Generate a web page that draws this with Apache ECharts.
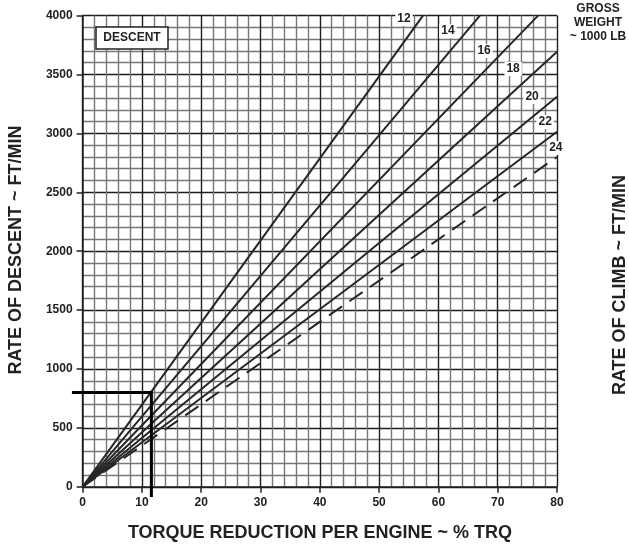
<!DOCTYPE html>
<html>
<head>
<meta charset="utf-8">
<script src="https://cdn.jsdelivr.net/npm/echarts@6/dist/echarts.min.js"></script>
<style>
html,body{margin:0;padding:0;background:#fff;}
#chart{width:629px;height:551px;}
</style>
</head>
<body>
<div id="chart"></div>
<script>
// Gross weight lines (~1000 LB)
var weights = [12, 14, 16, 18, 20, 22, 24];
var endX = [57.4, 67.0, 76.8, 80, 80, 80, 80];
var endY = [4000, 4000, 4000, 3694, 3311, 3014, 2800];
var labelX = [54.2, 61.6, 67.7, 72.6, 75.8, 78.0, 79.8];
var labelY = [3971, 3869, 3699, 3547, 3309, 3097, 2876];
// Example path (descent)
var exampleX = [-1.8, 11.6, 11.6];
var exampleY = [800, 800, -87];
// Axis ticks
var xTicks = [0, 10, 20, 30, 40, 50, 60, 70, 80];
var yTicks = [0, 500, 1000, 1500, 2000, 2500, 3000, 3500, 4000];

var FONT = 'Liberation Sans, Arial, sans-serif';
var chart = echarts.init(document.getElementById('chart'), null, {renderer: 'canvas'});

var series = weights.map(function (w, i) {
  return {
    type: 'line',
    name: String(w),
    data: [[0, 0], [endX[i], endY[i]]],
    symbol: 'none',
    lineStyle: {color: '#262626', width: 2, type: w === 24 ? [16, 9] : 'solid'},
    z: 3,
    markPoint: {
      symbol: 'rect',
      symbolSize: 0,
      data: [{coord: [labelX[i], labelY[i]], value: w}],
      label: {
        show: true,
        formatter: String(w),
        color: '#222',
        fontFamily: FONT,
        fontWeight: 'bold',
        fontSize: 12,
        backgroundColor: '#fff',
        padding: [1, 2, 1, 2]
      },
      z: 5
    }
  };
});

series.push({
  type: 'lines',
  name: 'example',
  coordinateSystem: 'cartesian2d',
  polyline: true,
  clip: false,
  data: [{coords: exampleX.map(function (x, i) { return [x, exampleY[i]]; })}],
  lineStyle: {color: '#000', width: 3, opacity: 1},
  z: 6
});

function plain(v) { return String(v); }

chart.setOption({
  animation: false,
  backgroundColor: '#fff',
  grid: {left: 82.6, right: 72, top: 15.6, bottom: 64.2, containLabel: false},
  xAxis: {
    type: 'value',
    min: 0, max: 80, interval: 10,
    axisLine: {show: true, lineStyle: {color: '#222', width: 1.5}},
    axisTick: {show: true, length: 6, lineStyle: {color: '#222', width: 1.5}},
    axisLabel: {
      margin: 10, color: '#222', fontFamily: FONT, fontWeight: 'bold', fontSize: 12,
      customValues: xTicks, formatter: plain
    },
    splitLine: {show: true, lineStyle: {color: '#1e1e1e', width: 1.4}},
    minorTick: {show: false, splitNumber: 5},
    minorSplitLine: {show: true, lineStyle: {color: '#777', width: 1.4}}
  },
  yAxis: {
    type: 'value',
    min: 0, max: 4000, interval: 500,
    axisLine: {show: true, lineStyle: {color: '#222', width: 1.5}},
    axisTick: {show: true, length: 6, lineStyle: {color: '#222', width: 1.5}},
    axisLabel: {
      margin: 10, color: '#222', fontFamily: FONT, fontWeight: 'bold', fontSize: 12,
      customValues: yTicks, formatter: plain
    },
    splitLine: {show: true, lineStyle: {color: '#1e1e1e', width: 1.4}},
    minorTick: {show: false, splitNumber: 5},
    minorSplitLine: {show: true, lineStyle: {color: '#777', width: 1.4}}
  },
  series: series,
  graphic: [
    {
      type: 'text', x: 320, y: 533,
      style: {text: 'TORQUE REDUCTION PER ENGINE ~ % TRQ', fill: '#222', font: 'bold 18px ' + FONT, align: 'center', verticalAlign: 'middle'}
    },
    {
      type: 'text', x: 16.5, y: 250, rotation: Math.PI / 2,
      style: {text: 'RATE OF DESCENT ~ FT/MIN', fill: '#222', font: 'bold 18px ' + FONT, align: 'center', verticalAlign: 'middle'}
    },
    {
      type: 'text', x: 620, y: 285, rotation: Math.PI / 2,
      style: {text: 'RATE OF CLIMB ~ FT/MIN', fill: '#222', font: 'bold 18px ' + FONT, align: 'center', verticalAlign: 'middle'}
    },
    {
      type: 'text', x: 598, y: 2,
      style: {text: 'GROSS\nWEIGHT\n~ 1000 LB', fill: '#222', font: 'bold 12px ' + FONT, align: 'center', verticalAlign: 'top', lineHeight: 14}
    },
    {
      type: 'group', z: 10,
      children: [
        {type: 'rect', shape: {x: 96, y: 27, width: 72, height: 22}, style: {fill: '#fff', stroke: '#222', lineWidth: 1.5}, z: 10},
        {type: 'text', x: 132, y: 38, style: {text: 'DESCENT', fill: '#222', font: 'bold 12px ' + FONT, align: 'center', verticalAlign: 'middle'}, z: 11}
      ]
    }
  ]
});
</script>
</body>
</html>
